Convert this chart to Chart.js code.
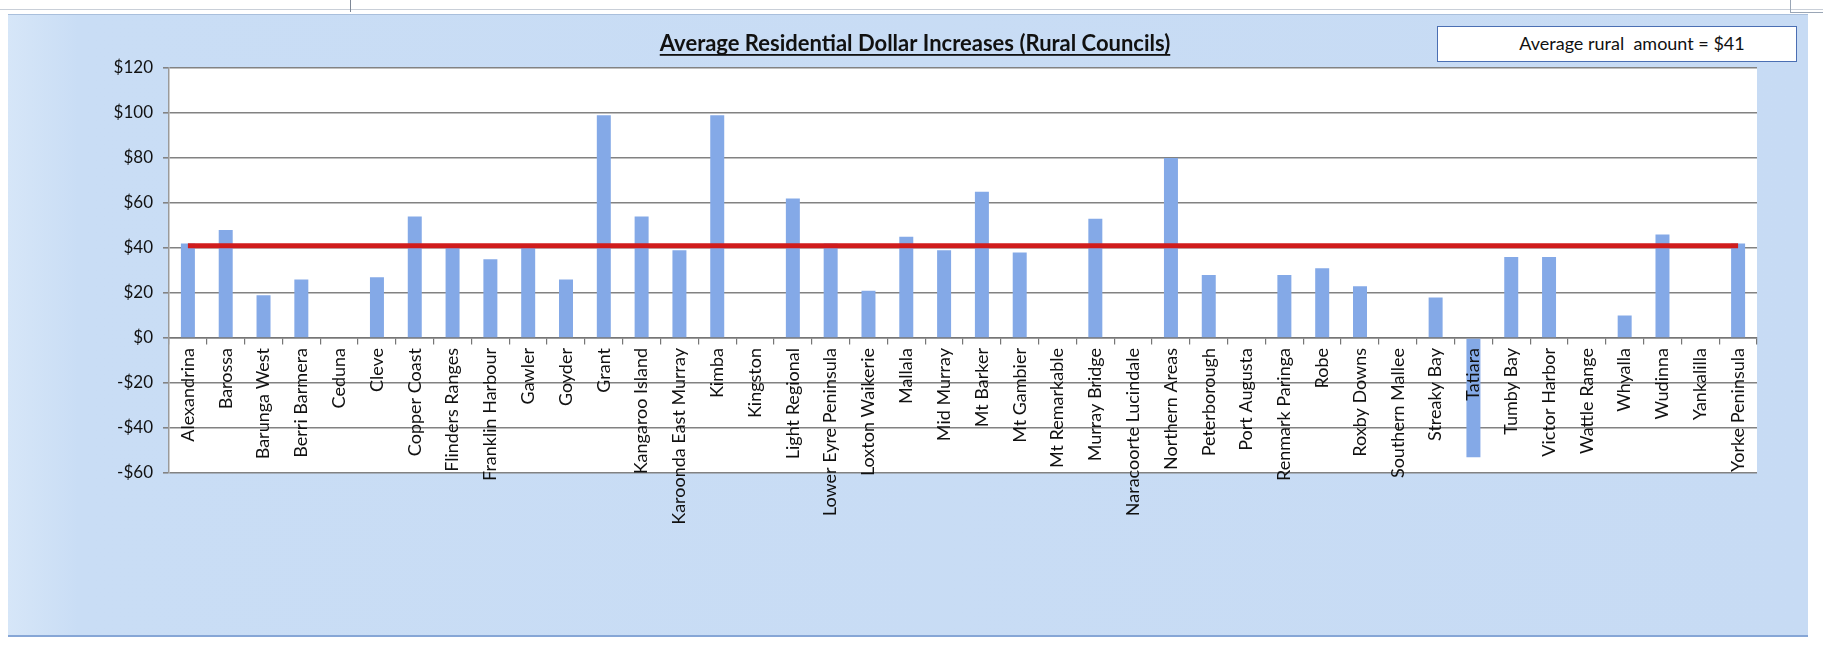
<!DOCTYPE html>
<html>
<head>
<meta charset="utf-8">
<script src="https://cdn.jsdelivr.net/npm/chart.js@4.4.1/dist/chart.umd.min.js"></script>
<style>
  html, body { margin: 0; padding: 0; background: #fff; width: 1823px; height: 646px; overflow: hidden; font-family: Lato, "Open Sans", sans-serif; }
  #topline { position: absolute; left: 0; top: 9px; width: 1823px; height: 0; border-top: 1px solid #c9cfd8; }
  #divider { position: absolute; left: 350px; top: 0; width: 0; height: 12px; border-left: 1.5px solid #7d8796; }
  #corner { position: absolute; left: 1790px; top: 0; width: 33px; height: 12px; border-left: 1px solid #9aa6b6; border-bottom: 1px solid #9aa6b6; }
  #frame { position: absolute; left: 8px; top: 14px; width: 1800px; height: 623px;
           background: linear-gradient(90deg, #d6e6f8 0px, #c9ddf5 70px, #c7dbf4 100%);
           border-top: 1px solid #a9bfdc; border-bottom: 2px solid #86a6d6; box-sizing: border-box; }
  #frame canvas { position: absolute; left: 0; top: 0; }
  #note { position: absolute; left: 1437px; top: 26px; width: 360px; height: 36px; background: #fff;
          border: 1.5px solid #4b6fb3; box-sizing: border-box; font: 18px Lato, sans-serif; color: #111;
          line-height: 33px; text-align: center; white-space: pre; padding-left: 30px; }
</style>
</head>
<body>
<div id="topline"></div>
<div id="divider"></div>
<div id="corner"></div>
<div id="frame"><canvas id="chart" width="1800" height="623"></canvas></div>
<div id="note"></div>
<script>
// Rural councils, in the order shown along the category axis
const councils = [
  'Alexandrina', 'Barossa', 'Barunga West', 'Berri Barmera', 'Ceduna', 'Cleve',
  'Copper Coast', 'Flinders Ranges', 'Franklin Harbour', 'Gawler', 'Goyder', 'Grant',
  'Kangaroo Island', 'Karoonda East Murray', 'Kimba', 'Kingston', 'Light Regional',
  'Lower Eyre Peninsula', 'Loxton Waikerie', 'Mallala', 'Mid Murray', 'Mt Barker',
  'Mt Gambier', 'Mt Remarkable', 'Murray Bridge', 'Naracoorte Lucindale', 'Northern Areas',
  'Peterborough', 'Port Augusta', 'Renmark Paringa', 'Robe', 'Roxby Downs', 'Southern Mallee',
  'Streaky Bay', 'Tatiara', 'Tumby Bay', 'Victor Harbor', 'Wattle Range', 'Whyalla',
  'Wudinna', 'Yankalilla', 'Yorke Peninsula'
];

// Average residential dollar increase per council (null = no figure)
const dollarIncrease = [
  42, 48, 19, 26, null, 27,
  54, 40, 35, 40, 26, 99,
  54, 39, 99, null, 62,
  42, 21, 45, 39, 65,
  38, null, 53, null, 80,
  28, null, 28, 31, 23, null,
  18, -53, 36, 36, null, 10,
  46, null, 42
];

// Rural average, drawn as the red reference line and quoted in the text box
const averageAmount = 41;

// Value axis range and tick step
const yMin = -60;
const yMax = 120;
const yStep = 20;

const chartTitle = 'Average Residential Dollar Increases (Rural Councils)';

document.getElementById('note').textContent = 'Average rural  amount = $' + averageAmount;

const FONT = 'Lato, "Open Sans", sans-serif';

// White plotting area behind grid and bars
const plotBackground = {
  id: 'plotBackground',
  beforeDraw(chart) {
    const { ctx, chartArea: a } = chart;
    ctx.save();
    ctx.fillStyle = '#ffffff';
    ctx.fillRect(a.left, a.top, a.right - a.left, a.bottom - a.top);
    ctx.restore();
  }
};

// Bold underlined heading
const underlinedTitle = {
  id: 'underlinedTitle',
  afterDraw(chart) {
    const { ctx } = chart;
    ctx.save();
    ctx.font = 'bold 22px ' + FONT;
    ctx.fillStyle = '#111';
    ctx.textAlign = 'center';
    ctx.textBaseline = 'alphabetic';
    const cx = 907, base = 36;
    ctx.fillText(chartTitle, cx, base);
    const w = ctx.measureText(chartTitle).width;
    ctx.fillRect(cx - w / 2, base + 3, w, 1.8);
    ctx.restore();
  }
};

new Chart(document.getElementById('chart'), {
  type: 'bar',
  data: {
    labels: councils,
    datasets: [
      {
        type: 'line',
        label: 'Average',
        data: councils.map(() => averageAmount),
        borderColor: '#d01c1c',
        borderWidth: 5,
        pointRadius: 0,
        fill: false,
        order: 0
      },
      {
        type: 'bar',
        label: 'Dollar increase',
        data: dollarIncrease,
        backgroundColor: '#84a9e7',
        barPercentage: 0.37,
        categoryPercentage: 1,
        order: 1
      }
    ]
  },
  options: {
    responsive: false,
    animation: false,
    devicePixelRatio: 1,
    layout: { padding: { top: 53, left: 0, right: 51, bottom: 165 } },
    plugins: {
      legend: { display: false },
      tooltip: { enabled: false },
      title: { display: false }
    },
    scales: {
      x: {
        position: { y: 0 },
        grid: { display: true, drawOnChartArea: false, drawTicks: true, tickLength: 6, offset: true, color: '#767676', lineWidth: 1.2 },
        border: { display: true, color: '#767676', width: 1.5 },
        ticks: { autoSkip: false, minRotation: 90, maxRotation: 90, padding: 4, color: '#111', z: 1,
                 font: { family: FONT, size: 18 } }
      },
      y: {
        min: yMin,
        max: yMax,
        afterFit(scale) { scale.width = 161; },
        grid: { color: '#828282', lineWidth: 1.6, tickLength: 6 },
        border: { display: true, color: '#9a9a9a', width: 1.5 },
        ticks: {
          stepSize: yStep, padding: 10, color: '#111',
          font: { family: FONT, size: 17 },
          callback: v => (v < 0 ? '-$' : '$') + Math.abs(v)
        }
      }
    }
  },
  plugins: [plotBackground, underlinedTitle]
});
</script>
</body>
</html>
